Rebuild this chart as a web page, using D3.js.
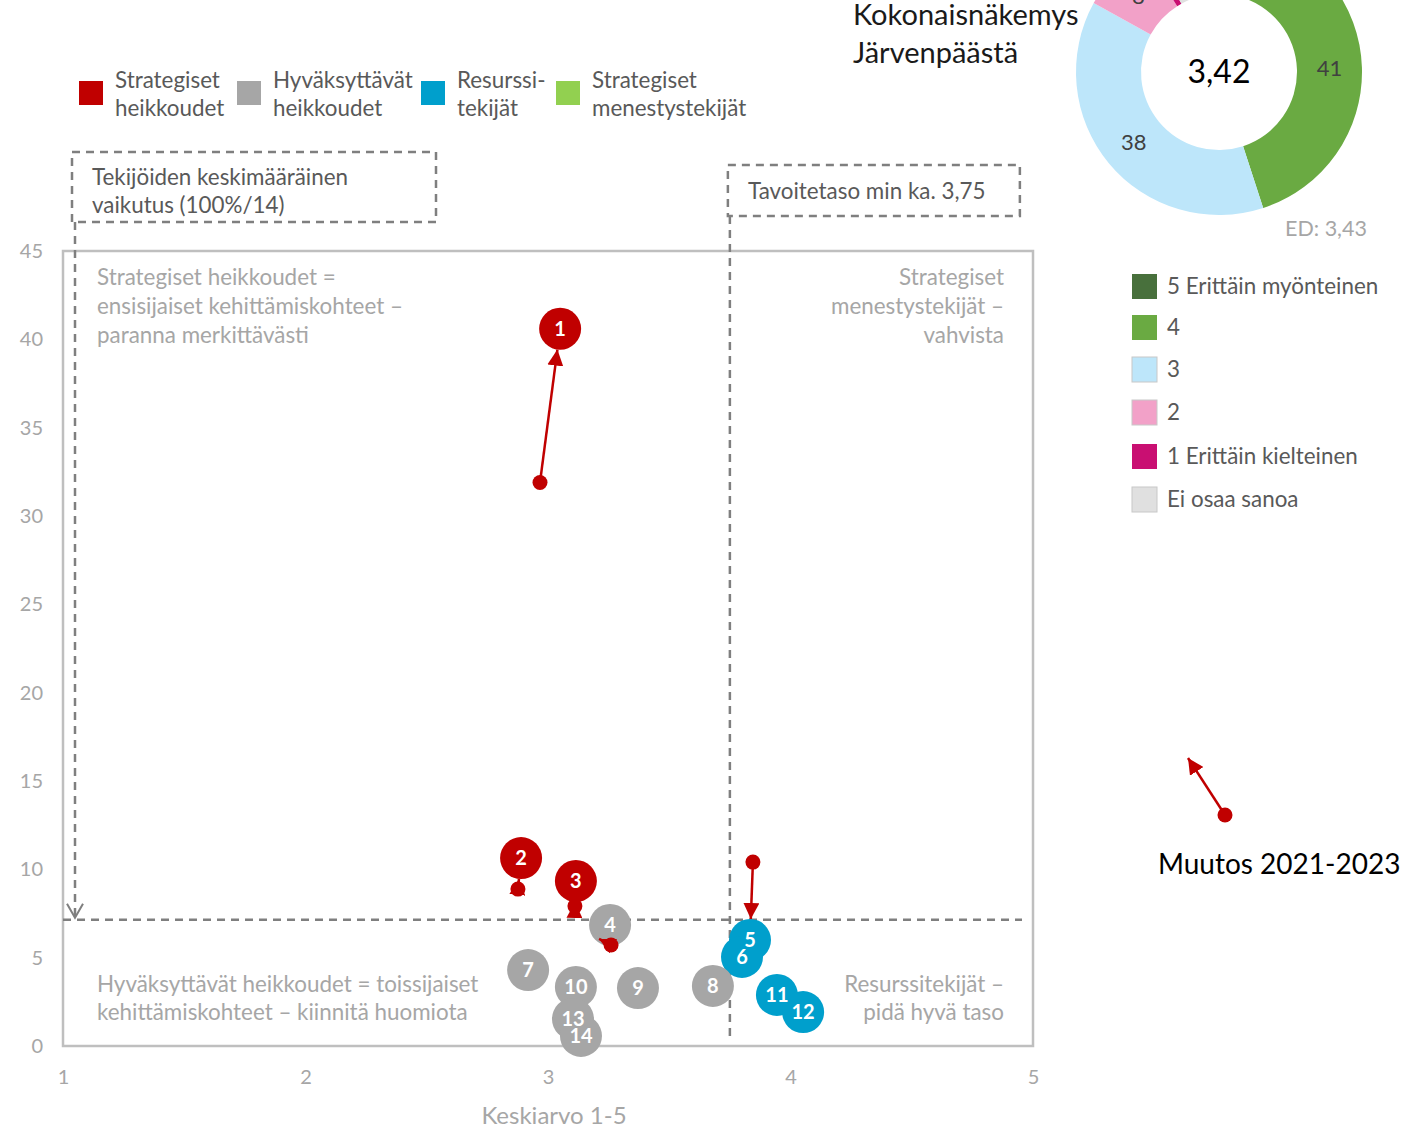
<!DOCTYPE html>
<html><head><meta charset="utf-8">
<script src="https://cdn.jsdelivr.net/npm/d3@7"></script>
<style>
body{margin:0;background:#fff;}
svg{display:block;font-family:Lato, "Open Sans", sans-serif;}
</style></head>
<body>
<svg id="c" width="1408" height="1139"></svg>
<script>
// ---- data ----
const ids = [1,2,3,4,5,6,7,8,9,10,11,12,13,14];
const means = [3.05,2.889,3.115,3.256,3.833,3.80,2.918,3.68,3.371,3.115,3.944,4.052,3.103,3.136];
const impacts = [40.6,10.64,9.34,6.85,6.0,5.04,4.3,3.4,3.28,3.34,2.89,1.92,1.53,0.57];
const groups = ["sw","sw","sw","aw","rf","rf","aw","aw","aw","aw","rf","rf","aw","aw"];
const prevIds = [1,2,3,4,5];
const prevMeans = [2.967,2.876,3.111,3.26,3.845];
const prevImpacts = [31.9,8.88,7.92,5.72,10.41];
const groupKeys = ["sw","aw","rf","sf"];
const groupNames = [["Strategiset","heikkoudet"],["Hyväksyttävät","heikkoudet"],["Resurssi-","tekijät"],["Strategiset","menestystekijät"]];
const xTicks = [1,2,3,4,5];
const yTicks = [0,5,10,15,20,25,30,35,40,45];
const avgImpact = 100/14;
const targetMean = 3.75;
const donutLabels = ["5 Erittäin myönteinen","4","3","2","1 Erittäin kielteinen","Ei osaa sanoa"];
const donutValues = [4,41,38,8,1,8];
const donutMean = "3,42";
const edMean = "ED: 3,43";

// ---- styles ----
const groupColors = {sw:"#C00000", aw:"#A6A6A6", rf:"#009FCC", sf:"#92D050"};
const donutColors = ["#48703C","#6AAA42","#BDE6FA","#F2A1C8","#C90F72","#E0E0E0"];
const svg = d3.select("#c");
const x = d3.scaleLinear().domain([1,5]).range([63,1033]);
const y = d3.scaleLinear().domain([0,45]).range([1046,251]);
const axisGrey = "#A6A6A6", textGrey = "#595959", dashGrey = "#7F7F7F";
const FS = 22.4;

// plot box
svg.append("rect").attr("x",x(1)).attr("y",y(45)).attr("width",x(5)-x(1)).attr("height",y(0)-y(45))
  .attr("fill","none").attr("stroke","#BFBFBF").attr("stroke-width",2.5);

// axes
const ya = svg.append("g").attr("transform",`translate(${x(1)},0)`)
  .call(d3.axisLeft(y).tickValues(yTicks).tickSize(0).tickPadding(20).tickFormat(d3.format("d")));
ya.select(".domain").remove();
ya.selectAll("text").attr("fill",axisGrey).style("font-size","20px").style("font-family","Lato, sans-serif");
const xa = svg.append("g").attr("transform",`translate(0,${y(0)})`)
  .call(d3.axisBottom(x).tickValues(xTicks).tickSize(0).tickPadding(24).tickFormat(d3.format("d")));
xa.select(".domain").remove();
xa.selectAll("text").attr("fill",axisGrey).style("font-size","20px").style("font-family","Lato, sans-serif");
svg.append("text").attr("x",554).attr("y",1124).attr("text-anchor","middle").attr("fill",axisGrey)
  .style("font-size","24px").text("Keskiarvo 1-5");

// quadrant texts
function lines(xp, yp, arr, anchor, color, size, lh){
  const t = svg.append("text").attr("x",xp).attr("y",yp).attr("text-anchor",anchor).attr("fill",color).style("font-size",size+"px");
  arr.forEach((s,i)=>t.append("tspan").attr("x",xp).attr("dy",i?lh:0).text(s));
  return t;
}
lines(97,285,["Strategiset heikkoudet =","ensisijaiset kehittämiskohteet –","paranna merkittävästi"],"start",axisGrey,FS,29);
lines(1004,285,["Strategiset","menestystekijät –","vahvista"],"end",axisGrey,FS,29);
lines(97,992,["Hyväksyttävät heikkoudet = toissijaiset","kehittämiskohteet – kiinnitä huomiota"],"start",axisGrey,FS,28);
lines(1004,992,["Resurssitekijät –","pidä hyvä taso"],"end",axisGrey,FS,28);

// dashed reference lines and annotation boxes
const dash = "8,6";
svg.append("line").attr("x1",x(1)).attr("x2",1022).attr("y1",y(avgImpact)).attr("y2",y(avgImpact))
  .attr("stroke",dashGrey).attr("stroke-width",2.5).attr("stroke-dasharray",dash);
svg.append("line").attr("x1",x(targetMean)).attr("x2",x(targetMean)).attr("y1",216).attr("y2",1036)
  .attr("stroke",dashGrey).attr("stroke-width",2.5).attr("stroke-dasharray",dash);
svg.append("rect").attr("x",72).attr("y",152).attr("width",364).attr("height",70).attr("fill","#fff")
  .attr("stroke",dashGrey).attr("stroke-width",2.5).attr("stroke-dasharray",dash);
svg.append("rect").attr("x",x(targetMean)-2).attr("y",165).attr("width",292).attr("height",51).attr("fill","#fff")
  .attr("stroke",dashGrey).attr("stroke-width",2.5).attr("stroke-dasharray",dash);
lines(92,185,["Tekijöiden keskimääräinen","vaikutus (100%/14)"],"start",textGrey,FS,28);
lines(748,199,["Tavoitetaso min ka. 3,75"],"start",textGrey,FS,28);
svg.append("line").attr("x1",75).attr("x2",75).attr("y1",222).attr("y2",y(avgImpact)-3)
  .attr("stroke",dashGrey).attr("stroke-width",2.5).attr("stroke-dasharray",dash);
svg.append("path").attr("d",`M67,${y(avgImpact)-16} L75,${y(avgImpact)-2} L83,${y(avgImpact)-16}`)
  .attr("fill","none").attr("stroke",dashGrey).attr("stroke-width",2);

// legend top
const lx = [79,237,421,556];
groupKeys.forEach((k,i)=>{
  svg.append("rect").attr("x",lx[i]).attr("y",81).attr("width",24).attr("height",24).attr("fill",groupColors[k]);
  lines(lx[i]+36,88,groupNames[i],"start",textGrey,FS,28);
});

// marker
const defs = svg.append("defs");
defs.append("marker").attr("id","ah").attr("viewBox","0 0 10 10").attr("refX",10).attr("refY",5)
  .attr("markerWidth",16).attr("markerHeight",16).attr("markerUnits","userSpaceOnUse").attr("orient","auto")
  .append("path").attr("d","M0,0 L10,5 L0,10 Z").attr("fill","#C00000");

// points
const R = 21;
const pts = ids.map((id,i)=>({id, m:means[i], v:impacts[i], g:groups[i]}));
svg.append("g").selectAll("circle").data(pts).join("circle")
  .attr("cx",p=>x(p.m)).attr("cy",p=>y(p.v)).attr("r",R).attr("fill",p=>groupColors[p.g]);

// change arrows
prevIds.forEach((id,i)=>{
  const p = pts.find(d=>d.id===id);
  const x0 = x(prevMeans[i]), y0 = y(prevImpacts[i]), x1 = x(p.m), y1 = y(p.v);
  const dx = x1-x0, dy = y1-y0, L = Math.hypot(dx,dy);
  let ex, ey;
  if (L > R+4){ ex = x1 - dx/L*R; ey = y1 - dy/L*R; }
  else { ex = x0 - 12; ey = y0 - 6; }
  svg.append("line").attr("x1",x0).attr("y1",y0).attr("x2",ex).attr("y2",ey)
    .attr("stroke","#C00000").attr("stroke-width",2.5).attr("marker-end","url(#ah)");
  svg.append("circle").attr("cx",x0).attr("cy",y0).attr("r",7.5).attr("fill","#C00000");
});

// point labels on top
svg.append("g").selectAll("text").data(pts).join("text")
  .attr("x",p=>x(p.m)).attr("y",p=>y(p.v)+7).attr("text-anchor","middle").attr("fill","#fff")
  .style("font-size","20px").style("font-weight","bold").text(p=>p.id);

// change legend
svg.append("line").attr("x1",1225).attr("y1",815).attr("x2",1188).attr("y2",758)
  .attr("stroke","#C00000").attr("stroke-width",2.5).attr("marker-end","url(#ah)");
svg.append("circle").attr("cx",1225).attr("cy",815).attr("r",7.5).attr("fill","#C00000");
svg.append("text").attr("x",1158).attr("y",874).attr("fill","#000").style("font-size","28px").text("Muutos 2021-2023");

// donut
const cx = 1219, cy = 72, ro = 143, ri = 78;
const pie = d3.pie().sort(null).value(d=>d)(donutValues);
const arc = d3.arc().innerRadius(ri).outerRadius(ro);
const dg = svg.append("g").attr("transform",`translate(${cx},${cy})`);
dg.selectAll("path").data(pie).join("path").attr("d",arc).attr("fill",(d,i)=>donutColors[i]);
const larc = d3.arc().innerRadius((ri+ro)/2).outerRadius((ri+ro)/2);
dg.selectAll("text.lab").data(pie).join("text").attr("class","lab")
  .attr("transform",d=>`translate(${larc.centroid(d)})`).attr("text-anchor","middle").attr("dy","0.35em")
  .attr("fill","#404040").style("font-size","22px").text(d=>d.data>=5?d.data:"");
dg.append("text").attr("text-anchor","middle").attr("dy","0.35em").attr("fill","#000").style("font-size","32px").text(donutMean);
svg.append("text").attr("x",1285).attr("y",236).attr("fill",axisGrey).style("font-size","21.5px").text(edMean);
lines(853,25,["Kokonaisnäkemys","Järvenpäästä"],"start","#1a1a1a",29,38);

// donut legend
donutLabels.forEach((l,i)=>{
  const yy = [286,327,369,412,456,499][i];
  svg.append("rect").attr("x",1132).attr("y",yy-12).attr("width",25).attr("height",25).attr("fill",donutColors[i])
    .attr("stroke","#c8c8c8").attr("stroke-width",i===2||i===5||i===3?1:0);
  svg.append("text").attr("x",1167).attr("y",yy+8).attr("fill",textGrey).style("font-size",FS+"px").text(l);
});
</script>
</body></html>
